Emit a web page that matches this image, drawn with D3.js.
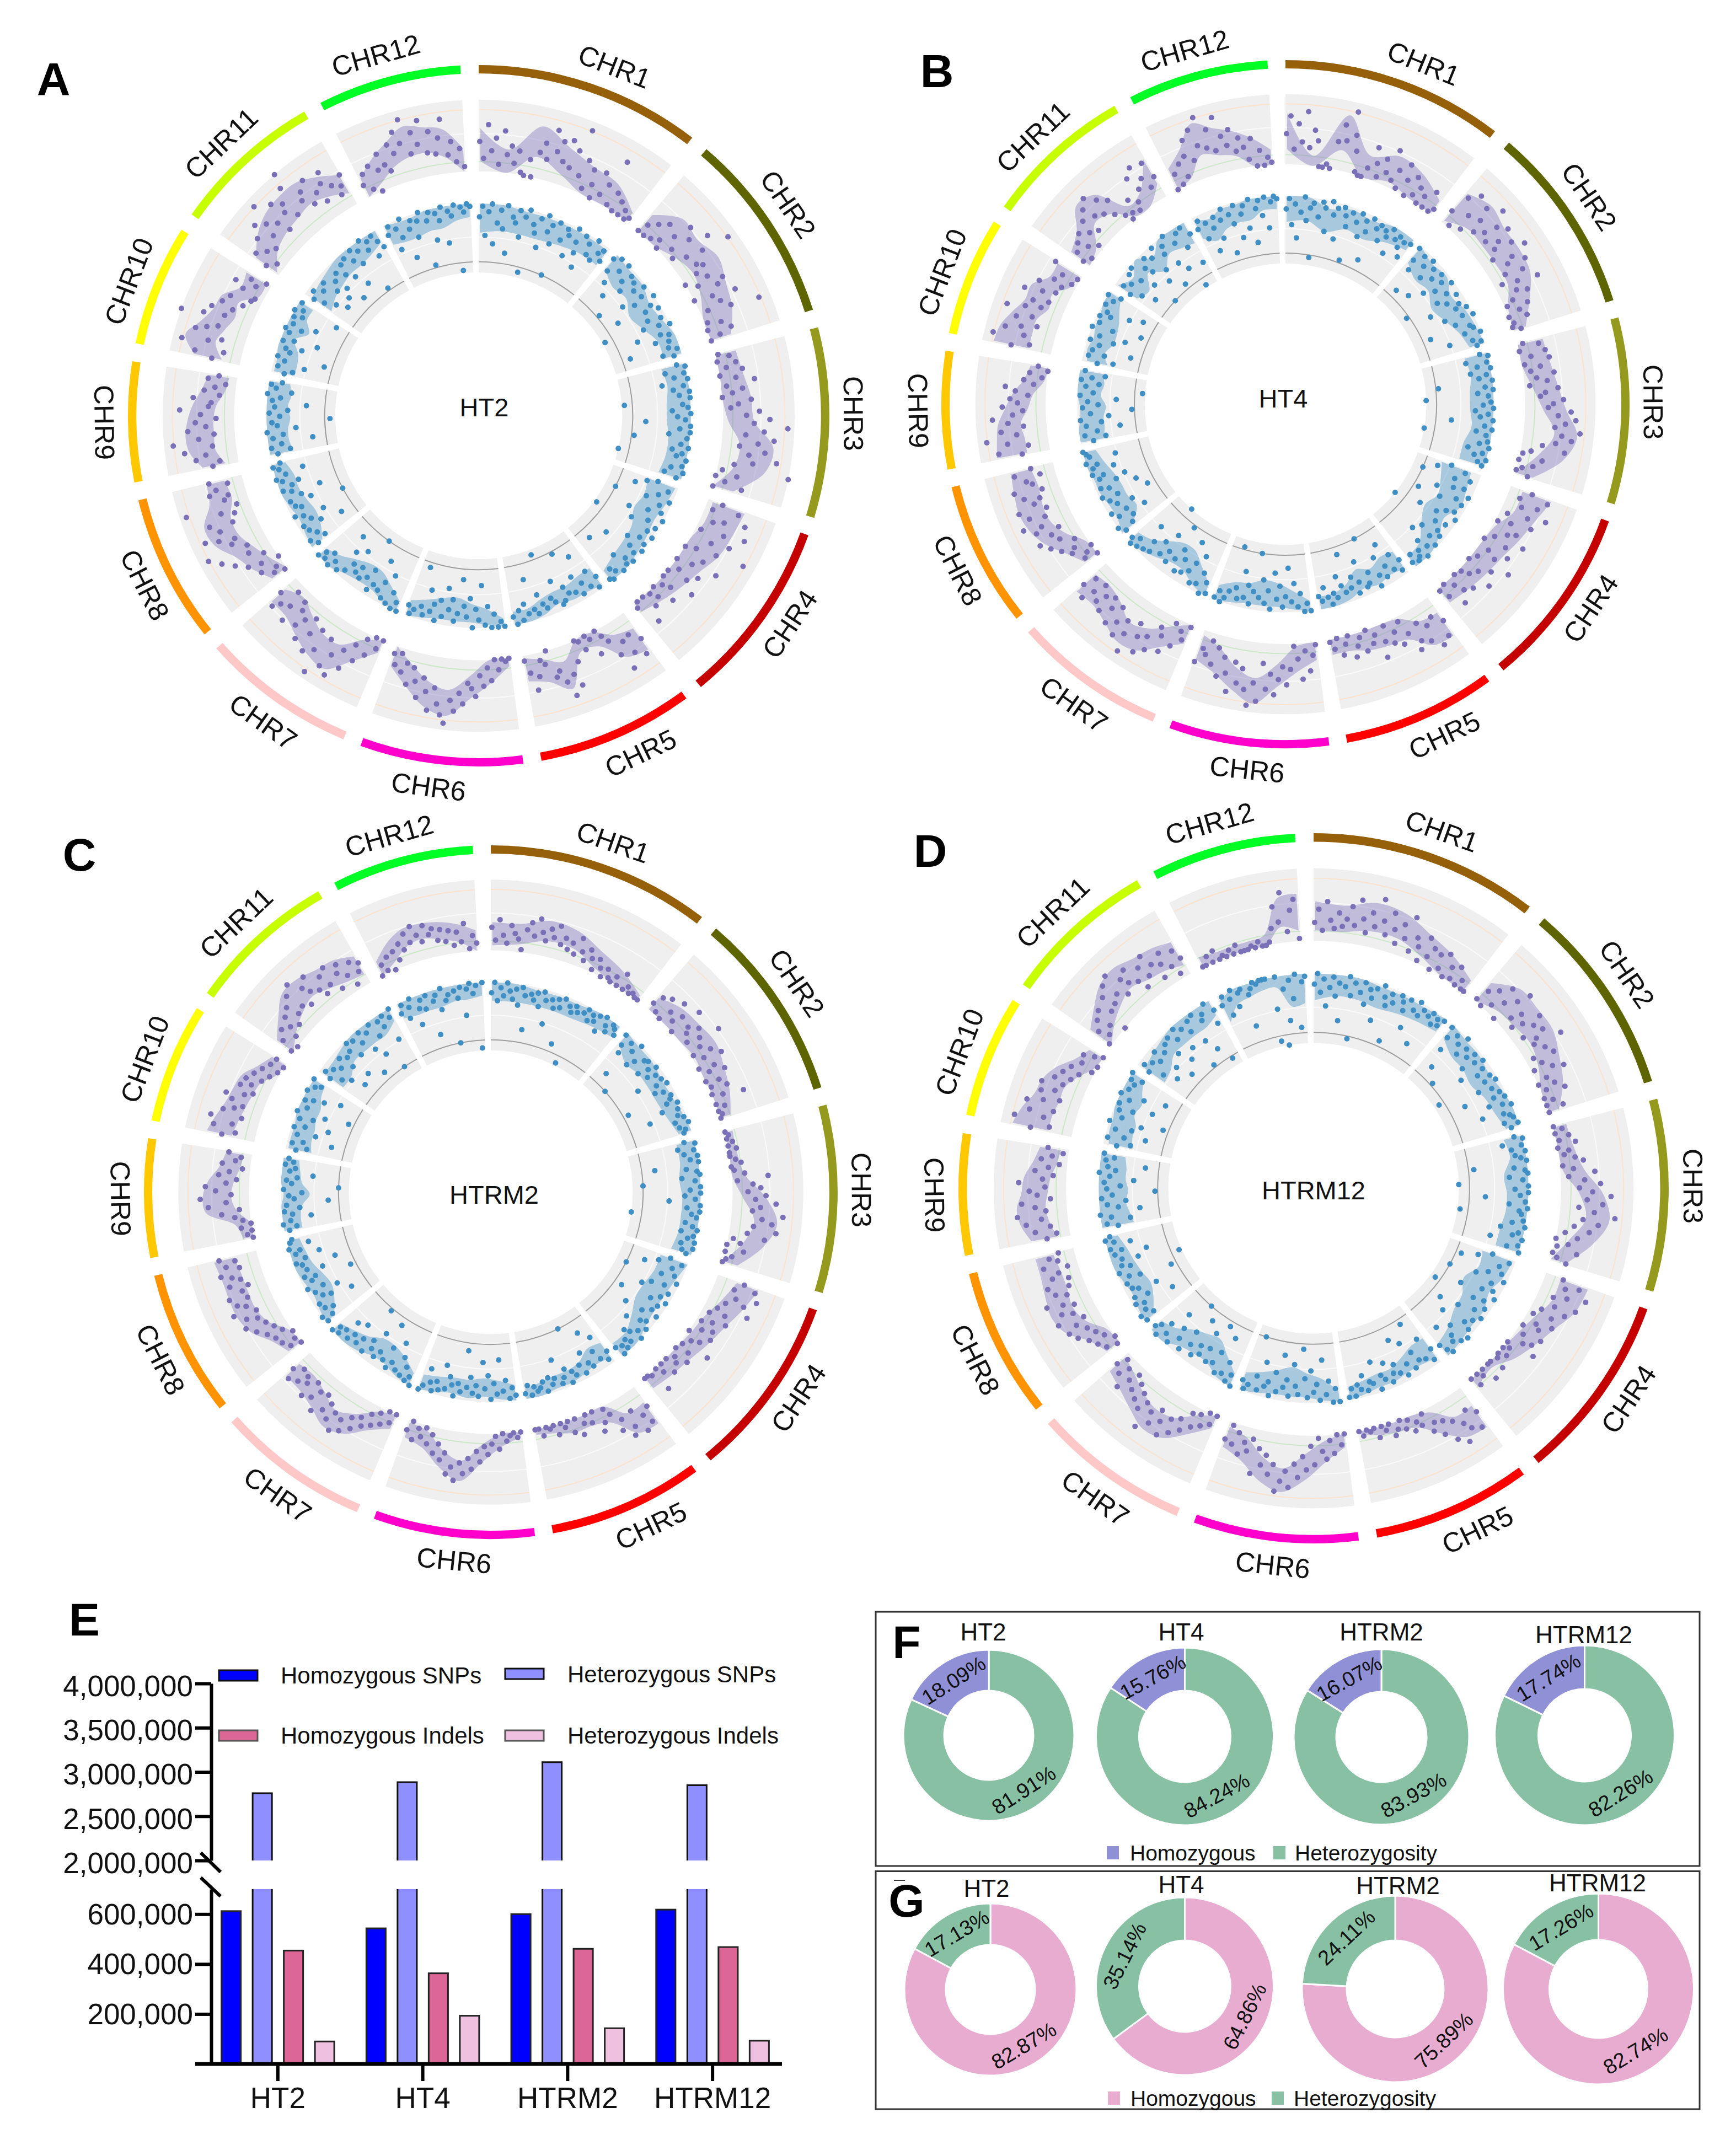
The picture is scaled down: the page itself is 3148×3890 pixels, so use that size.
<!DOCTYPE html>
<html><head><meta charset="utf-8">
<script src="https://d3js.org/d3.v7.min.js"></script>
<style>html,body{margin:0;padding:0;background:#fff}svg{display:block}text{font-family:"Liberation Sans",Arial,sans-serif;fill:#111}</style>
</head><body><svg id="c" width="3148" height="3890"></svg>
<script>
// ---------- chromosome ring data ----------
const chrNames=["CHR1","CHR2","CHR3","CHR4","CHR5","CHR6","CHR7","CHR8","CHR9","CHR10","CHR11","CHR12"];
const chrLengths=[43.3,36.8,36.4,35.5,30,31.2,29.7,28.4,23,23.2,29,27.5];
const chrColors=["#96600A","#5E6400","#959A1E","#C40000","#FF0000","#FF00CC","#FFC8C8","#FF9300","#FFC800","#FFFF00","#C8FF00","#00FF24"];
const labelShift=[2.5,-.8,-1.5,-1.5,-2.3,1.5,-.4,-.6,0,-1,-1,-1];
const labelShiftChr1=[2.5,3.3,.5,1];
const labelShiftChr6=[1.5,-.2,-.5,0];
// Dots: by-eye readings of position across the ring, in order along each chromosome (a thinned sample of the dense clouds).
const outerA=[
[35,22,48,28,38,18,44,26,33,20,30,14,12,25,10,32,40,28,52,36,45,30,48,27,42,60,24,38,16,33,22,12,35,18,28,50,14,26,10,22,8,18,5,15],
[12,20,8,26,14,32,18,10,28,42,20,35,16,48,25,38,60,28,32,24,12,30,20,40,34,5,26,44,30,18,36,58,14,24,8,30,20,12],
[14,22,10,26,18,30,12,24,38,16,28,20,10,34,24,18,40,30,48,36,62,44,30,52,40,26,46,34,56,38,24,70,16,28,10,20,34,12],
[24,38,18,46,30,22,50,34,16,42,28,58,36,20,12,30,44,24,10,34,18,28,12,38,8,22,16,30,6,20,14,24,10,34,8,16],
[36,48,28,42,30,52,38,24,18,12,30,16,8,22,14,10,28,46,36,52,40,30,34,8,22,18,30,40,26,16],
[10,14,6,20,12,28,18,32,24,40,34,30,46,38,52,44,62,56,48,36,54,40,30,46,34,24,38,22,30,16,26,18],
[12,20,8,28,16,36,24,46,32,56,40,52,30,62,44,28,50,36,24,46,30,38,26,20,42,30,18,34,40,28],
[14,22,18,30,12,26,36,20,44,30,52,28,60,38,34,46,56,42,30,48,26,36,22,62,30,26,40,34,24,38],
[32,26,44,36,52,30,60,40,28,48,34,42,26,38,54,32,30,44,24,36,28,20,34,26],
[34,48,26,60,40,30,52,44,36,70,50,34,46,30,40,24,36,20,18,30,38,22,28,16],
[24,36,18,30,42,26,50,34,44,60,38,28,52,40,46,32,56,70,38,44,30,50,36,26,40,48,34,24,30,38],
[22,30,16,34,12,28,40,30,24,44,36,52,42,60,32,48,38,56,30,46,28,40,54,26,36,20,30,16]];
const innerA=[
[84,92,70,88,96,64,80,90,76,94,58,86,82,92,72,88,96,46,84,78,90,68,94,82,88,74,92,50,80,90,86,70,94,84,76,92,66,88,80,94,78,86,90,82],
[90,80,94,72,86,96,64,82,90,76,88,52,84,92,70,86,78,94,60,88,82,92,44,80,90,74,86,94,66,84,90,78,88,56,86,92,80,88],
[88,96,78,92,84,98,74,90,82,94,86,97,44,88,92,80,96,84,90,60,94,86,98,78,92,52,88,96,82,90,86,94,36,92,84,96,80,90],
[78,70,88,62,82,92,74,86,50,90,80,94,66,84,92,72,88,96,44,86,92,78,94,84,90,64,96,88,92,80,94,58,90,86,94,92],
[84,92,76,88,60,82,90,74,86,52,84,78,88,90,70,86,82,46,88,84,76,90,86,62,88,80,92,84,94,88],
[96,90,98,84,94,78,92,62,88,80,94,72,86,78,58,84,90,74,82,66,88,76,92,80,86,70,90,84,54,88,92,86],
[94,88,96,82,92,70,90,78,86,62,84,90,74,82,50,86,78,84,66,80,88,72,92,60,88,94,84,92,88,96],
[88,80,92,84,60,88,76,90,82,70,86,92,50,84,88,74,90,80,64,86,92,84,78,90,94,86,72,90,94,88],
[88,78,92,84,60,90,82,94,72,86,90,46,84,92,78,88,64,90,84,94,76,88,92,84],
[84,78,90,70,86,92,56,84,88,76,92,84,66,90,94,82,90,72,92,86,94,88,60,92],
[86,78,90,70,84,62,88,76,66,82,72,86,58,80,88,74,90,64,84,92,78,88,52,94,84,90,76,92,86,80],
[86,92,72,88,80,94,62,84,90,76,88,94,52,86,92,70,90,84,94,66,90,86,96,44,92,88,96,92]];
const outerB=[
[36,50,24,44,30,54,26,40,32,12,9,15,8,34,48,36,60,42,30,14,9,12,20,38,26,16,32,22,42,18,28,14,36,24,10,30,16,24,8,20,12,28,6,16],
[24,40,14,48,30,18,44,34,24,52,30,40,26,46,34,28,42,22,50,36,30,44,24,38,18,30,46,26,34,20,14,30,22,10,26,14,8,18],
[16,28,10,32,20,34,14,26,18,36,22,30,16,38,28,24,42,34,30,48,38,52,44,36,56,42,50,38,28,46,20,14,30,10,24,16,12,22],
[30,44,22,38,26,48,34,18,40,24,14,32,26,42,18,30,12,36,20,28,44,16,32,10,24,38,20,14,30,12,26,18,34,10,22,14],
[34,46,26,50,30,42,24,38,44,28,16,34,22,30,14,26,38,18,24,12,28,16,22,30,10,18,26,12,20,14],
[14,22,34,18,40,24,14,32,44,30,40,52,36,48,28,58,44,62,50,34,46,30,54,40,28,44,22,36,18,30,26,38],
[14,26,20,34,16,42,30,24,46,36,52,40,30,58,44,34,50,40,28,46,34,26,42,30,38,24,34,44,26,36],
[12,22,18,10,28,24,34,20,40,30,46,34,26,44,38,52,32,44,28,50,36,30,42,26,48,32,36,24,44,30],
[34,52,28,44,60,36,48,30,42,54,38,30,46,34,40,26,36,44,22,30,16,26,12,20],
[44,30,60,36,52,40,28,46,34,56,42,30,38,26,48,34,24,40,22,30,16,26,14,36],
[18,26,14,30,22,34,16,28,38,24,44,34,50,30,42,24,36,18,12,16,26,14,20,40,28,46,34,24,44,30],
[10,24,14,30,18,34,46,28,52,38,60,34,48,30,56,40,32,44,26,36,28,18,34,12,24,8,18,14]];
const innerB=[
[84,92,72,88,62,82,94,76,86,90,48,80,92,88,70,94,84,90,66,92,86,78,90,52,84,92,74,88,80,92,58,86,90,78,88,84,92,72,86,90,82,88,76,90],
[92,82,74,90,56,84,92,76,88,60,82,90,70,86,78,92,48,84,74,90,80,64,88,84,92,72,86,94,78,56,88,90,82,94,68,86,92,88],
[88,96,76,92,84,98,78,90,84,94,52,88,96,82,90,40,92,86,96,80,90,84,94,62,88,96,82,90,30,92,86,96,78,90,84,94,88,92],
[70,82,60,88,76,50,86,78,92,66,84,90,72,54,88,82,92,76,62,88,80,42,86,90,74,84,92,70,88,80,94,86,90,92,84,90],
[82,90,74,86,62,80,88,70,84,92,50,78,86,88,66,82,90,76,84,56,86,80,72,88,84,92,86,78,88,84],
[94,88,96,80,90,72,86,60,82,90,74,84,64,92,78,88,70,84,50,80,90,76,86,66,88,80,48,84,90,94,86,92],
[92,84,94,78,88,66,90,74,82,58,86,76,88,70,80,52,86,78,64,84,74,42,88,80,90,68,92,86,94,90],
[90,82,94,78,66,88,80,92,72,84,56,88,80,92,62,84,90,76,68,88,84,92,74,90,86,94,70,90,92,94],
[84,74,90,80,62,88,76,92,70,84,52,90,78,86,64,92,82,44,88,78,92,84,74,90],
[82,70,90,78,88,58,84,92,74,86,66,94,78,90,56,92,84,88,70,92,60,88,94,84],
[80,88,72,84,62,90,80,92,70,50,84,78,90,64,86,72,92,54,82,88,70,94,62,84,44,90,76,92,60,84],
[84,90,74,86,62,80,88,70,84,92,56,86,78,92,66,84,90,72,94,60,86,92,80,94,70,90,96,92]];
const outerC=[
[30,20,36,24,18,32,26,22,14,30,36,26,40,30,24,34,28,38,24,30,22,28,20,34,24,18,28,22,14,24,18,10,20,14,8,18,12,24,6,16,10,14,4,10],
[18,26,14,30,10,22,34,18,26,12,38,24,20,30,16,26,42,22,14,28,20,34,12,24,18,30,10,22,14,26,8,20,36,12,18,6,14,10],
[8,14,6,16,10,18,12,8,16,20,10,14,22,40,16,28,34,24,38,30,46,34,28,52,36,44,30,48,26,40,16,22,12,26,10,18,14,8],
[34,44,28,48,32,40,26,46,22,30,18,34,24,16,28,20,30,12,24,18,36,14,22,10,26,16,20,8,24,12,18,6,30,14,10,8],
[30,42,34,46,26,38,44,28,36,20,14,24,30,12,20,10,18,26,12,22,8,16,12,20,6,14,10,18,8,12],
[10,16,8,14,18,10,24,14,20,28,22,34,26,40,32,44,36,50,40,46,30,36,24,32,18,26,14,22,16,26,12,20],
[12,20,10,24,16,28,20,32,26,38,30,44,36,48,34,42,30,38,26,44,28,36,24,40,30,26,34,24,38,30],
[12,20,14,24,10,26,18,30,22,36,26,42,30,38,28,46,34,40,30,44,32,26,40,30,36,44,28,38,30,42],
[10,16,12,20,8,18,24,34,20,44,30,50,26,38,46,30,22,36,28,18,34,24,20,30],
[38,28,46,32,50,26,42,34,28,38,44,30,24,36,28,34,22,30,18,26,14,22,12,20],
[14,24,10,30,18,26,34,22,38,28,44,30,50,26,40,34,46,30,24,38,28,42,20,32,38,26,16,34,24,30],
[12,20,14,24,10,26,18,30,24,36,28,40,32,26,38,30,34,24,32,22,30,18,28,20,34,14,24,18]];
const innerC=[
[86,94,80,90,84,96,88,82,90,78,92,86,60,88,84,90,80,92,86,68,88,82,90,84,92,56,88,84,90,86,44,88,92,84,90,86,92,80,94,88,84,92,90,86],
[92,84,78,90,60,86,94,76,82,50,88,90,78,86,92,82,88,70,90,84,92,80,86,54,90,88,84,92,78,90,66,88,92,84,94,86,90,88],
[86,96,80,92,84,98,88,94,60,84,92,98,80,90,50,94,86,98,82,90,70,94,84,96,88,92,36,84,90,96,82,92,88,94,84,96,86,90],
[80,90,72,84,62,88,78,92,50,84,74,90,68,86,92,80,88,56,86,92,80,66,88,84,92,74,88,94,84,80,90,86,92,88,94,86],
[84,90,68,86,78,60,88,84,74,90,82,50,88,84,92,80,86,90,70,84,88,82,92,84,88,90,86,92,84,90],
[90,84,92,78,86,62,88,80,92,74,84,64,90,82,88,76,84,56,88,82,92,84,78,88,70,90,84,92,86,76,90,94],
[94,88,92,82,90,76,88,66,84,90,74,86,56,82,88,68,84,78,90,52,82,88,72,84,90,76,86,92,88,94],
[92,86,94,82,88,62,90,78,84,70,88,80,92,54,86,82,90,74,86,62,88,92,84,72,90,86,94,78,92,90],
[90,84,94,88,72,86,92,80,90,58,84,88,78,92,50,86,90,82,70,88,84,92,86,90],
[86,78,90,82,60,88,74,92,84,66,90,80,94,72,88,54,92,86,78,94,66,90,86,94],
[84,90,76,86,70,82,60,88,76,84,64,86,92,78,90,56,84,92,74,88,66,92,80,50,90,84,92,70,88,94],
[86,92,80,88,94,72,84,90,82,92,60,86,90,78,94,84,88,50,90,84,92,70,90,94,86,92,44,94]];
const outerD=[
[26,36,20,42,28,22,34,24,30,40,26,46,32,22,38,28,50,34,24,42,30,20,36,26,44,18,30,24,14,34,20,28,12,26,16,30,10,22,14,26,8,18,6,12],
[14,24,10,30,18,38,26,12,34,44,22,30,18,26,40,32,20,36,28,24,46,30,18,34,22,14,28,36,20,12,24,16,30,8,18,10,24,6],
[12,18,8,22,14,26,10,20,16,24,30,14,22,38,18,30,42,26,36,50,32,44,26,38,54,30,42,24,36,18,28,10,22,14,30,8,16,24],
[26,40,30,48,34,24,44,28,38,20,30,16,34,22,26,14,32,18,28,22,34,10,16,10,18,8,14,22,6,12,24,10,16,8,20,6],
[34,46,28,42,36,50,30,44,26,36,24,30,14,22,18,24,14,20,12,18,22,10,16,12,20,8,14,10,16,8],
[12,20,10,26,16,30,24,14,34,20,38,28,44,34,52,40,48,56,36,44,30,38,26,46,20,30,24,34,18,28,14,26],
[12,20,10,24,16,28,18,34,26,40,30,46,36,28,42,34,50,30,38,26,34,22,30,18,26,36,20,28,16,24],
[14,22,12,26,18,30,22,36,26,40,32,24,44,30,38,26,34,46,28,36,24,40,22,34,28,20,38,26,32,24],
[30,22,38,26,44,32,50,28,36,46,24,34,40,28,48,30,22,36,26,18,32,24,16,28],
[44,30,58,36,48,30,52,40,28,44,34,46,30,38,26,34,22,30,14,24,12,26,18,10],
[14,26,18,32,22,36,12,28,40,30,46,34,50,28,40,34,44,30,22,38,28,44,34,20,30,38,24,16,34,26],
[12,6,18,10,20,8,14,6,16,10,18,8,12,6,14,8,16,10,8,14,24,40,28,50,20,36,44,14]];
const innerD=[
[86,94,80,90,70,84,92,78,88,60,86,94,80,90,48,84,92,76,88,82,90,66,94,86,80,90,84,54,92,88,82,92,70,86,94,84,90,62,88,92,84,90,86,92],
[92,84,74,90,60,86,94,80,88,52,84,90,76,86,92,70,88,82,46,90,84,92,76,86,62,90,84,92,78,88,94,70,86,90,92,84,94,88],
[88,96,78,92,84,98,86,90,94,54,84,92,98,80,90,36,94,84,98,88,62,92,80,96,88,90,44,92,84,98,76,90,86,96,70,92,84,96],
[76,90,66,84,54,88,78,92,70,84,50,88,80,92,64,86,78,90,46,84,92,72,88,58,84,90,66,94,78,92,84,88,72,94,90,84],
[82,90,70,86,54,84,76,88,66,82,90,60,86,78,84,90,74,86,82,92,70,86,84,90,78,88,84,92,86,92],
[94,84,96,78,88,62,92,80,86,70,90,76,54,88,82,66,90,78,84,60,88,74,92,82,86,68,90,80,50,88,92,86],
[94,86,92,78,88,60,90,74,84,54,86,76,64,84,78,88,58,82,72,90,50,84,76,92,66,88,80,94,86,90],
[92,84,96,88,62,86,92,80,90,70,84,88,54,90,78,86,44,92,82,88,74,86,66,90,84,92,76,88,94,90],
[82,90,72,86,94,64,80,88,74,92,84,52,88,78,90,68,86,94,82,88,60,90,84,92],
[84,74,92,80,64,88,76,94,70,86,54,90,80,92,66,86,94,76,90,60,88,92,84,94],
[84,90,74,86,64,82,90,70,84,58,88,76,90,66,84,92,72,88,52,82,90,70,92,60,84,88,48,94,76,86],
[86,92,76,88,94,80,90,92,62,86,90,94,92,96,94,98,46,70,94,38,84,60,90,76,96,54,88,92]];
// Cloud envelope read by eye: seven low,high pairs along each chromosome.
const coreOuterA=[
[20,45,10,30,28,52,20,42,12,35,10,32,4,20],[6,28,12,42,18,40,22,45,18,40,10,36,8,28],[6,28,8,30,12,34,16,36,26,52,24,48,8,28],[16,42,16,40,12,38,10,32,8,28,6,24,4,20],
[26,46,22,42,8,24,8,22,24,46,18,36,14,32],[4,18,12,30,24,42,36,56,32,52,22,40,12,28],[6,22,18,36,30,52,30,50,24,44,18,38,24,38],[10,26,18,34,24,40,30,50,30,52,24,42,26,40],
[22,40,28,48,28,50,28,48,26,44,20,38,18,34],[26,48,34,58,30,50,26,44,28,42,16,32,16,34],[14,34,24,44,28,50,30,52,32,52,28,46,22,38],[10,28,18,38,26,46,30,54,30,50,24,46,8,30]];
const coreInnerA=[
[72,96,74,94,74,92,74,92,76,92,78,92,78,92],[80,96,74,92,76,92,70,88,74,90,80,94,80,96],[76,94,78,96,76,96,76,98,78,98,78,98,76,96],[70,92,72,90,70,88,76,90,78,92,80,94,84,98],
[76,92,76,90,78,90,78,88,80,92,84,94,84,98],[88,99,80,92,76,90,72,90,74,90,78,92,82,96],[86,98,78,92,72,88,72,88,76,90,82,94,86,98],[84,96,78,92,76,90,78,92,80,94,80,96,84,98],
[76,96,78,96,78,96,76,96,78,96,76,96,78,96],[76,92,76,92,78,94,84,96,76,94,82,96,82,98],[70,88,74,90,76,92,78,94,78,94,80,96,84,98],[78,94,76,92,76,92,78,94,78,94,82,96,84,98]];
const coreOuterB=[
[24,52,6,20,28,56,8,30,16,38,12,34,4,24],[14,42,22,48,22,44,22,44,22,42,14,32,4,22],[8,32,12,34,18,38,26,44,36,54,26,46,8,26],[22,46,22,40,14,36,12,32,10,30,8,28,8,26],
[26,48,24,46,14,32,10,30,10,28,8,24,8,24],[8,26,14,34,28,46,40,60,34,52,22,42,16,36],[10,28,20,38,30,50,34,52,26,46,22,42,24,44],[6,24,14,32,24,42,30,48,30,50,28,48,30,46],
[30,54,30,52,32,50,26,44,22,38,14,30,10,26],[30,58,30,56,30,50,24,44,26,44,16,34,14,34],[12,30,16,36,30,50,26,46,10,22,10,26,24,46],[6,30,16,40,30,56,26,48,22,42,12,34,4,24]];
const coreInnerB=[
[74,94,76,94,70,88,76,92,74,90,80,94,84,96],[78,96,72,90,74,92,68,86,72,90,78,92,82,96],[76,94,78,96,76,96,76,96,78,96,74,94,74,96],[62,86,66,88,70,90,66,84,72,90,82,94,84,96],
[74,90,72,88,76,90,72,88,80,92,84,94,84,96],[86,98,78,92,72,90,70,90,74,90,76,92,82,96],[84,96,74,90,66,84,66,84,72,88,80,92,84,96],[84,96,72,90,74,90,74,92,76,92,80,94,84,98],
[76,96,74,94,74,92,72,92,76,94,74,94,76,94],[74,90,78,92,74,90,74,92,76,92,80,96,84,96],[74,92,70,86,80,96,72,86,80,94,78,94,76,96],[76,92,70,88,76,92,78,92,78,94,84,98,84,98]];
const coreOuterC=[
[16,34,18,34,24,40,24,38,16,30,10,24,4,16],[8,24,12,30,12,32,14,34,12,30,8,26,4,20],[4,18,6,18,8,22,20,38,30,48,24,40,6,24],[28,46,22,40,16,34,14,30,10,26,8,24,6,22],
[26,46,26,44,10,26,8,22,8,22,6,18,6,16],[6,16,10,22,20,34,34,50,28,42,16,30,14,26],[8,24,16,32,26,44,32,48,26,42,22,38,24,38],[8,24,14,30,24,40,28,44,28,44,28,44,30,46],
[8,20,12,24,22,46,26,48,24,44,20,36,18,32],[30,50,28,46,26,42,24,40,22,38,14,30,12,24],[10,28,20,38,26,48,30,48,26,44,22,42,20,36],[10,24,18,34,26,40,28,40,24,38,20,34,12,28]];
const coreInnerC=[
[80,94,80,94,80,92,80,92,80,92,82,94,84,96],[84,96,76,92,78,92,78,90,78,90,80,92,84,96],[80,96,80,96,78,96,80,98,80,98,80,96,78,96],[72,94,72,90,70,88,70,88,76,90,82,94,82,96],
[76,90,74,88,80,90,82,92,82,92,84,94,86,96],[82,96,78,92,76,90,78,92,78,90,80,92,82,96],[84,96,76,92,72,88,72,88,78,92,82,94,86,96],[86,98,78,92,74,90,76,92,80,94,82,96,84,98],
[80,96,80,96,78,96,72,92,78,94,80,96,82,96],[74,92,76,92,76,92,78,94,78,94,82,96,84,98],[72,90,72,90,78,92,78,94,78,94,78,96,84,98],[82,96,80,94,80,94,80,94,82,96,82,96,84,98]];
const coreOuterD=[
[20,42,20,40,24,46,24,44,18,36,12,30,4,22],[10,30,18,42,20,42,22,42,18,36,10,30,4,20],[6,22,8,24,14,30,26,44,32,50,22,40,6,24],[24,46,24,44,18,36,14,30,10,24,8,16,6,20],
[28,48,28,46,16,34,10,22,10,20,8,18,6,14],[8,22,16,32,26,46,38,56,32,50,20,38,16,32],[8,22,18,34,28,46,30,48,26,42,20,36,16,32],[8,24,14,30,24,42,28,46,26,44,26,42,28,42],
[22,42,26,48,28,50,26,46,24,44,20,38,18,34],[30,58,30,54,28,48,28,46,22,40,14,30,10,24],[12,32,20,40,26,48,30,50,26,46,24,44,20,40],[8,20,6,18,8,18,8,18,10,20,24,46,20,48]];
const coreInnerD=[
[74,96,78,94,78,94,76,92,78,92,80,92,82,94],[82,96,76,92,76,92,74,90,78,92,80,94,84,96],[80,96,82,98,76,96,78,98,78,96,76,98,76,96],[68,92,70,90,64,86,70,90,72,90,78,92,82,96],
[72,90,72,88,76,88,80,90,80,90,82,92,84,94],[86,98,76,92,72,90,68,90,72,90,76,92,80,96],[84,98,74,92,66,86,68,86,72,88,80,94,84,96],[86,98,78,92,74,90,76,92,78,94,80,96,84,98],
[70,94,72,94,74,94,72,94,74,94,74,94,76,96],[72,90,74,92,74,92,78,94,76,94,80,96,84,98],[70,88,72,90,78,92,78,94,78,94,78,96,82,98],[72,90,82,96,84,96,86,98,86,98,70,94,72,96]];
const ringOuter=[outerA,outerB,outerC,outerD];
const ringInner=[innerA,innerB,innerC,innerD];
const coreOuter=[coreOuterA,coreOuterB,coreOuterC,coreOuterD];
const coreInner=[coreInnerA,coreInnerB,coreInnerC,coreInnerD];
const panelNames=["HT2","HT4","HTRM2","HTRM12"];
// ---------- panel E ----------
const samples=["HT2","HT4","HTRM2","HTRM12"];
const seriesNames=["Homozygous SNPs","Heterozygous SNPs","Homozygous Indels","Heterozygous Indels"];
const seriesColors=["#0000FF","#8F8FFF","#DC6695","#F0C0E0"];
const homSNP=[612000,543000,600000,618000];
const hetSNP=[2760000,2885000,3110000,2850000];
const homIndel=[454000,363000,461000,468000];
const hetIndel=[90000,193000,143000,93000];
const upperTicks=[2000000,2500000,3000000,3500000,4000000];
const lowerTicks=[200000,400000,600000];
// ---------- panels F, G ----------
const homF=[18.09,15.76,16.07,17.74], hetF=[81.91,84.24,83.93,82.26];
const homG=[82.87,64.86,75.89,82.74], hetG=[17.13,35.14,24.11,17.26];

// ---------- layout ----------
const svg=d3.select("#c");
const panelGeo=[{cx:868,cy:754,R:636,lx:878,ly:738},{cx:2331,cy:733,R:624,lx:2327,ly:722},{cx:890,cy:2162,R:629,lx:896,ly:2166},{cx:2382,cy:2155,R:644,lx:2382,ly:2158}];
const letters=[["A",97,144],["B",1699,129],["C",144,1550],["D",1687,1543],["E",153,2937],["F",1644,2978],["G",1644,3447]];
const PAD=3*Math.PI/180;
const pieAngles=d3.pie().sort(null).padAngle(PAD).startAngle(0).endAngle(2*Math.PI)(chrLengths);
const arc=d3.arc();
panelGeo.forEach((g,pi)=>{
  const p=svg.append("g").attr("transform",`translate(${g.cx},${g.cy})`);
  const R=g.R, out0=R*.697,out1=R*.901,in0=R*.409,in1=R*.605;
  // readings were taken on a compressed by-eye scale; these domains calibrate them to the ring width
  const rOut=d3.scaleLinear().domain([12,67]).range([out0,out1]).clamp(true);
  const rIn=d3.scaleLinear().domain([42,94]).range([in0,in1]).clamp(true);
  pieAngles.forEach((s,i)=>{
    const a0=s.startAngle,a1=s.endAngle-s.padAngle,a1i=a1+.8*Math.PI/180;
    const sec=(r0,r1,e,fill)=>p.append("path").attr("d",arc({innerRadius:r0,outerRadius:r1,startAngle:a0,endAngle:e})).attr("fill",fill);
    sec(R*.976,R,a1,chrColors[i]);
    sec(out0,out1,a1,"#EFEFEF");
    sec(in0,in1,a1i,"#EFEFEF");
    sec(R*.873-1,R*.873+1,a1,"#FBE3CE");
    sec(R*.805-1,R*.805+1,a1,"#F9F9F9");
    sec(R*.725-1,R*.725+1,a1,"#CDE8C8");
    sec(R*.51-1,R*.51+1,a1i,"#F9F9F9");
    sec(R*.439-1,R*.439+1,a1i,"#9E9E9E");
    const core=(row,rs,e,col)=>{
      const st=d3.range(row.length/2);
      const t=d3.scaleLinear().domain([0,st.length-1]).range([a0+.006,e-.006]);
      p.append("path").datum(st).attr("fill",col).attr("fill-opacity",.4)
       .attr("d",d3.areaRadial().curve(d3.curveCatmullRom).angle(k=>t(k)).innerRadius(k=>rs(row[2*k])).outerRadius(k=>rs(row[2*k+1])));
    };
    core(coreOuter[pi][i],rOut,a1,"#7A70B8");
    core(coreInner[pi][i],rIn,a1i,"#3F8FC4");
    const dots=(vals,rs,e,col)=>{
      const t=d3.scaleLinear().domain([0,vals.length-1]).range([a0+.004,e-.004]);
      p.append("g").selectAll("circle").data(vals).join("circle")
       .attr("cx",(d,k)=>rs(d)*Math.sin(t(k))).attr("cy",(d,k)=>-rs(d)*Math.cos(t(k)))
       .attr("r",5).attr("fill",col);
    };
    dots(ringOuter[pi][i],rOut,a1,"#7A70B8");
    dots(ringInner[pi][i],rIn,a1i,"#3F8FC4");
    const shiftDeg=i===0?labelShiftChr1[pi]:i===5?labelShiftChr6[pi]:labelShift[i];
    const m=(a0+a1)/2, deg=m*180/Math.PI, sh=shiftDeg*Math.PI/180, lr=R*1.068;
    const rot=deg<100?deg+shiftDeg:deg<=280?deg-180+shiftDeg:deg-360+shiftDeg;
    p.append("text").attr("transform",`translate(${lr*Math.sin(m+sh)},${-lr*Math.cos(m+sh)}) rotate(${rot})`)
     .attr("text-anchor","middle").attr("dominant-baseline","central").attr("font-size",50).text(chrNames[i]);
  });
  svg.append("text").attr("x",g.lx).attr("y",g.ly).attr("text-anchor","middle").attr("dominant-baseline","central").attr("font-size",47).text(panelNames[pi]);
});
letters.forEach(l=>svg.append("text").attr("x",l[1]).attr("y",l[2]).attr("text-anchor","middle").attr("dominant-baseline","central").attr("font-size",84).attr("font-weight","bold").style("fill","#000").text(l[0]));
svg.append("line").attr("x1",1621).attr("x2",1641).attr("y1",3410).attr("y2",3410).attr("stroke","#333").attr("stroke-width",2);

// ---------- panel E bars ----------
const yU=d3.scaleLinear().domain([2000000,4000000]).range([3374,3053]);
const yL=d3.scaleLinear().domain([0,700000]).range([3743,3426]);
const xG=d3.scaleBand().domain(samples).range([372.5,1423.5]);
const xS=d3.scaleBand().domain(seriesNames).range([-113,113]).paddingInner(.38).paddingOuter(.19);
const seriesVals=[homSNP,hetSNP,homIndel,hetIndel];
const e=svg.append("g");
seriesNames.forEach((n,si)=>{
  samples.forEach((sm,i)=>{
    const v=seriesVals[si][i], x=xG(sm)+xG.bandwidth()/2+xS(n), w=xS.bandwidth();
    if(v>700000){
      e.append("rect").attr("x",x).attr("y",yL(700000)).attr("width",w).attr("height",yL(0)-yL(700000)).attr("fill",seriesColors[si]);
      e.append("rect").attr("x",x).attr("y",yU(v)).attr("width",w).attr("height",yU(2000000)-yU(v)).attr("fill",seriesColors[si]);
      e.append("path").attr("d",`M${x},${yL(700000)}V${yL(0)}M${x+w},${yL(700000)}V${yL(0)}M${x},${yU(2000000)}V${yU(v)}H${x+w}V${yU(2000000)}`).attr("fill","none").attr("stroke","#111").attr("stroke-width",3);
    } else {
      e.append("rect").attr("x",x).attr("y",yL(v)).attr("width",w).attr("height",yL(0)-yL(v)).attr("fill",seriesColors[si]).attr("stroke","#222").attr("stroke-width",3);
    }
  });
});
const fmt=d3.format(",");
const axU=svg.append("g").attr("transform","translate(383,0)").call(d3.axisLeft(yU).tickValues(upperTicks).tickFormat(fmt).tickSize(29).tickSizeOuter(0));
const axL=svg.append("g").attr("transform","translate(383,0)").call(d3.axisLeft(yL).tickValues(lowerTicks).tickFormat(fmt).tickSize(29).tickSizeOuter(0));
const axB=svg.append("g").attr("transform","translate(0,3743)").call(d3.axisBottom(xG).tickSize(31).tickSizeOuter(0));
[axU,axL,axB].forEach(a=>{a.selectAll("line,path").attr("stroke","#000").attr("stroke-width",6);a.selectAll("text").attr("font-size",53).attr("font-family",null).style("fill","#111");});
axU.selectAll("text").attr("x",-33).attr("dy","0.42em");
axL.selectAll("text").attr("x",-33).attr("dy","0.34em");
axB.select(".domain").remove();
axB.selectAll("text").attr("y",42).attr("dy","0.71em");
svg.append("line").attr("x1",354).attr("x2",1418).attr("y1",3743).attr("y2",3743).attr("stroke","#000").attr("stroke-width",7);
[[364,3360,400,3395],[364,3405,400,3439]].forEach(b=>svg.append("line").attr("x1",b[0]).attr("y1",b[1]).attr("x2",b[2]).attr("y2",b[3]).attr("stroke","#000").attr("stroke-width",6));
const legE=[[397,3029,509,3038],[916,3026,1029,3036],[397,3138,509,3147],[916,3138,1029,3147]];
seriesNames.forEach((n,i)=>{
  const l=legE[i];
  svg.append("rect").attr("x",l[0]).attr("y",l[1]).attr("width",70).attr("height",19).attr("fill",seriesColors[i]).attr("stroke",i<2?"#111":"#555").attr("stroke-width",3);
  svg.append("text").attr("x",l[2]).attr("y",l[3]).attr("dominant-baseline","central").attr("font-size",42).text(n);
});

// ---------- donuts ----------
const boxes=[[1588,2923,1494,461],[1588,3393.5,1494,431.5]];
boxes.forEach(b=>svg.append("rect").attr("x",b[0]).attr("y",b[1]).attr("width",b[2]).attr("height",b[3]).attr("fill","none").attr("stroke","#333").attr("stroke-width",3));
const colHomF="#9090D6",colHet="#88C0A4",colHomG="#E7ACCF";
const donutF=[{cx:1793,cy:3147,r:155,ri:81,tx:1783,ty:2959},{cx:2148.5,cy:3149,r:161,ri:83,tx:2142,ty:2959},{cx:2505,cy:3150,r:159,ri:82,tx:2505,ty:2959},{cx:2873.5,cy:3147,r:163,ri:84,tx:2872,ty:2964}];
const donutG=[{cx:1796,cy:3608,r:156,ri:81,tx:1789,ty:3424},{cx:2148.5,cy:3602,r:161,ri:83,tx:2142,ty:3417},{cx:2530,cy:3607,r:169,ri:88,tx:2535,ty:3419},{cx:2898.5,cy:3607,r:173,ri:89,tx:2897,ty:3414}];
function donuts(geo,first,second,c1,c2){
  geo.forEach((g,i)=>{
    const dg=svg.append("g").attr("transform",`translate(${g.cx},${g.cy})`);
    const vals=[first[i],second[i]],cols=[c1,c2];
    const a=d3.arc().innerRadius(g.ri).outerRadius(g.r);
    d3.pie().sort(null)(vals).forEach((s,k)=>{
      dg.append("path").attr("d",a(s)).attr("fill",cols[k]).attr("stroke","#fff").attr("stroke-width",3);
      const c=a.centroid(s), md=(s.startAngle+s.endAngle)/2*180/Math.PI;
      const rot=md<90?md:md<270?md-180:md-360;
      dg.append("text").attr("transform",`translate(${c[0]},${c[1]}) rotate(${rot})`).attr("text-anchor","middle").attr("dominant-baseline","central").attr("font-size",38).text(vals[k].toFixed(2)+"%");
    });
    svg.append("text").attr("x",g.tx).attr("y",g.ty).attr("text-anchor","middle").attr("dominant-baseline","central").attr("font-size",44).text(samples[i]);
  });
}
donuts(donutF,hetF,homF,colHet,colHomF);
donuts(donutG,homG,hetG,colHomG,colHet);
const legendNames=["Homozygous","Heterozygosity"];
[[2007,3360,colHomF,2049,2309,colHet,2348],[2009,3805,colHomG,2050,2306,colHet,2346]].forEach(l=>{
  svg.append("rect").attr("x",l[0]).attr("y",l[1]-12).attr("width",22).attr("height",24).attr("fill",l[2]);
  svg.append("text").attr("x",l[3]).attr("y",l[1]).attr("dominant-baseline","central").attr("font-size",39).text(legendNames[0]);
  svg.append("rect").attr("x",l[4]).attr("y",l[1]-12).attr("width",22).attr("height",24).attr("fill",l[5]);
  svg.append("text").attr("x",l[6]).attr("y",l[1]).attr("dominant-baseline","central").attr("font-size",39).text(legendNames[1]);
});
</script></body></html>
